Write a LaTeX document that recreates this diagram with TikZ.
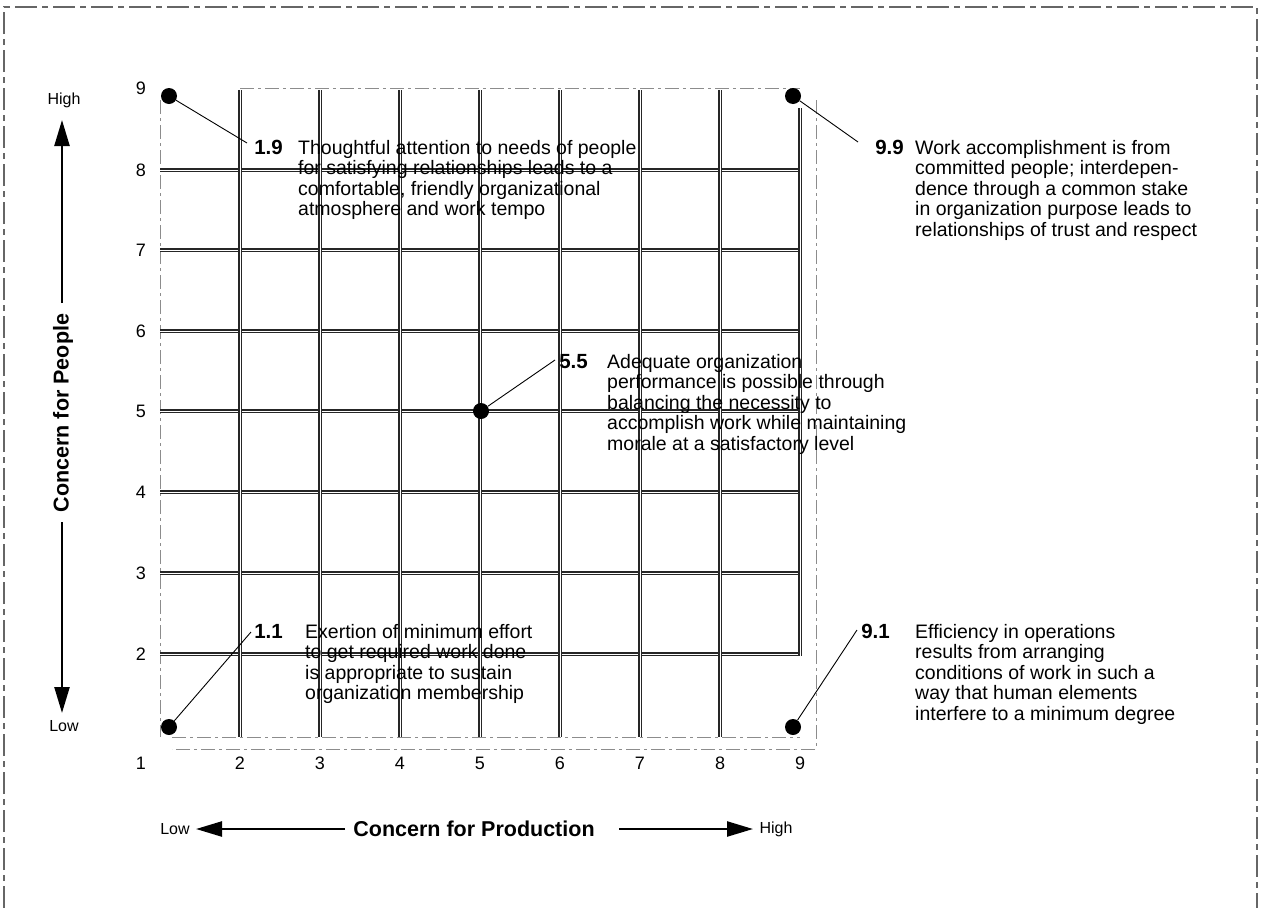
\documentclass[tikz,border=0pt]{standalone}
\usepackage{fontspec}
\setmainfont{Liberation Sans}
\usetikzlibrary{arrows.meta}
\tikzset{
  gridline/.style={draw=black!85, line width=3.2pt, postaction={draw=white, line width=1.0pt}},
  faint/.style={draw=black!45, line width=0.8pt, dash pattern=on 14pt off 4pt on 3pt off 4pt},
  frameline/.style={draw=black!60, line width=1.2pt, dash pattern=on 22pt off 5pt on 6pt off 5pt},
  dotmark/.style={circle, fill=black, minimum size=16pt, inner sep=0pt},
  leader/.style={draw=black, line width=0.9pt},
  bigarrow/.style={draw=black, line width=2.4pt, -{Triangle[length=26pt,width=15pt]}},
  body/.style={inner sep=0pt, font=\fontsize{19.5}{20.5}\selectfont, anchor=base west},
  tag/.style={inner sep=0pt, font=\bfseries\fontsize{20.5}{22}\selectfont, anchor=base east},
  axnum/.style={inner sep=0pt, font=\fontsize{18}{20}\selectfont},
  axtitle/.style={inner sep=0pt, font=\bfseries\fontsize{21.5}{24}\selectfont},
  hilo/.style={inner sep=0pt, font=\fontsize{16}{18}\selectfont},
}
\begin{document}
\begin{tikzpicture}[x=1pt, y=-1pt]
\useasboundingbox (0,0) rectangle (1262,908);
% outer frame
\draw[frameline] (4,908) -- (4,7) -- (1257,7) -- (1257,908);
% faint frame lines of the grid
\draw[faint] (160,100) -- (160,737);
\draw[faint] (240,88) -- (800,88);
\draw[faint] (172,737) -- (800,737);
\draw[faint] (816,100) -- (816,749) -- (172,749);
% grid
\foreach \gy in {170,250,331,411,492,573,654} {
  \draw[gridline] (160,\gy) -- (800,\gy);
}
\foreach \gx in {240,320,400,480,560,640,720} {
  \draw[gridline] (\gx,90) -- (\gx,737);
}
\draw[gridline] (800,108) -- (800,656);
% axis numbers
\node[axnum] (ly9) at (141,88) {9};
\node[axnum] (ly8) at (141,170) {8};
\node[axnum] (ly7) at (141,250) {7};
\node[axnum] (ly6) at (141,331) {6};
\node[axnum] (ly5) at (141,411) {5};
\node[axnum] (ly4) at (141,492) {4};
\node[axnum] (ly3) at (141,573) {3};
\node[axnum] (ly2) at (141,654) {2};
\node[axnum] (ly1) at (141,763) {1};
\node[axnum] (lx2) at (240,763) {2};
\node[axnum] (lx3) at (320,763) {3};
\node[axnum] (lx4) at (400,763) {4};
\node[axnum] (lx5) at (480,763) {5};
\node[axnum] (lx6) at (560,763) {6};
\node[axnum] (lx7) at (640,763) {7};
\node[axnum] (lx8) at (720,763) {8};
\node[axnum] (lx9) at (800,763) {9};
% vertical axis
\node[hilo] (vhigh) at (64,100) {High};
\node[hilo] (vlow) at (64,726) {Low};
\node[axtitle, rotate=90] (cpeople) at (63,413) {Concern for People};
\coordinate (vu0) at (62,303);
\coordinate (vu1) at (62,120);
\coordinate (vd0) at (62,522);
\coordinate (vd1) at (62,713);
\draw[bigarrow] (vu0) -- (vu1);
\draw[bigarrow] (vd0) -- (vd1);
% horizontal axis
\node[hilo] (hlow) at (175,829) {Low};
\node[hilo] (hhigh) at (776,829) {High};
\node[axtitle] (cprod) at (474,829) {Concern for Production};
\coordinate (hl0) at (345,829);
\coordinate (hl1) at (196,829);
\coordinate (hr0) at (619,829);
\coordinate (hr1) at (753,829);
\draw[bigarrow] (hl0) -- (hl1);
\draw[bigarrow] (hr0) -- (hr1);
% points
\node[dotmark] (d19) at (169,96) {};
\node[dotmark] (d99) at (793,96) {};
\node[dotmark] (d55) at (481,411) {};
\node[dotmark] (d11) at (169,727) {};
\node[dotmark] (d91) at (793,727) {};
% tags
\node[tag] (l19) at (283,154) {1.9};
\node[tag] (l99) at (904,154) {9.9};
\node[tag] (l55) at (588,368) {5.5};
\node[tag] (l11) at (283,638) {1.1};
\node[tag] (l91) at (890,638) {9.1};
% leader ends
\coordinate (e19) at (247,143);
\coordinate (e99) at (858,142);
\coordinate (e55) at (555,360);
\coordinate (e11) at (251,632);
\coordinate (e91) at (857,630);
\draw[leader] (d19) -- (e19);
\draw[leader] (d99) -- (e99);
\draw[leader] (d55) -- (e55);
\draw[leader] (d11) -- (e11);
\draw[leader] (d91) -- (e91);
% texts
\node[body] (t19) at (298,154) {\begin{tabular}[t]{@{}l@{}}Thoughtful attention to needs of people\\for satisfying relationships leads to a\\comfortable, friendly organizational\\atmosphere and work tempo\end{tabular}};
\node[body] (t99) at (915,154) {\begin{tabular}[t]{@{}l@{}}Work accomplishment is from\\committed people; interdepen-\\dence through a common stake\\in organization purpose leads to\\relationships of trust and respect\end{tabular}};
\node[body] (t55) at (607,368) {\begin{tabular}[t]{@{}l@{}}Adequate organization\\performance is possible through\\balancing the necessity to\\accomplish work while maintaining\\morale at a satisfactory level\end{tabular}};
\node[body] (t11) at (305,638) {\begin{tabular}[t]{@{}l@{}}Exertion of minimum effort\\to get required work done\\is appropriate to sustain\\organization membership\end{tabular}};
\node[body] (t91) at (915,638) {\begin{tabular}[t]{@{}l@{}}Efficiency in operations\\results from arranging\\conditions of work in such a\\way that human elements\\interfere to a minimum degree\end{tabular}};
\end{tikzpicture}
\end{document}
